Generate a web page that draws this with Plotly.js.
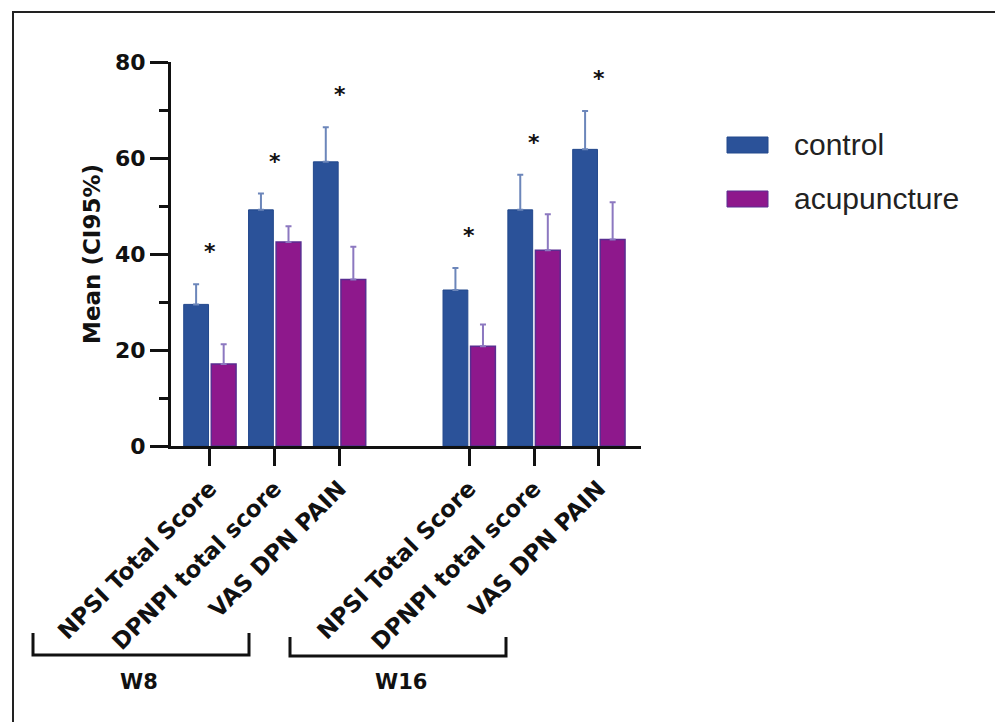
<!DOCTYPE html>
<html>
<head>
<meta charset="utf-8">
<script src="https://cdn.plot.ly/plotly-3.0.1.min.js"></script>
<style>
  html, body { margin: 0; padding: 0; background: #fff; overflow: hidden; }
  #wrap { position: relative; width: 995px; height: 722px; }
  #chart { width: 995px; height: 722px; }
  #frame { position: absolute; left: 12px; top: 11px; width: 1000px; height: 1000px;
           border-left: 2px solid #222; border-top: 2px solid #222; pointer-events: none; box-sizing: border-box; }
</style>
</head>
<body>
<div id="wrap">
  <div id="chart"></div>
  <div id="frame"></div>
</div>
<script>
// ---- data ----
const measures = ['NPSI Total Score', 'DPNPI total score', 'VAS DPN PAIN'];
const weeks = ['W8', 'W16'];
const seriesNames = ['control', 'acupuncture'];
// order: W8 (NPSI, DPNPI, VAS), W16 (NPSI, DPNPI, VAS)
const controlMean = [29.5, 49.2, 59.2, 32.5, 49.2, 61.8];
const controlErr  = [4.2, 3.4, 7.2, 4.6, 7.3, 8.0];
const acupMean    = [17.1, 42.5, 34.7, 20.8, 40.8, 43.0];
const acupErr     = [4.1, 3.3, 6.8, 4.5, 7.5, 7.8];
const yTicks = [0, 20, 40, 60, 80];

// ---- build categories ----
const keys = [];
const labels = [];
weeks.forEach(w => measures.forEach(m => { keys.push(w + '|' + m); labels.push(m); }));
const gapKey = 'gap';
const catArray = keys.slice(0, 3).concat([gapKey]).concat(keys.slice(3));

const W = 995, H = 722;
const L = 171, R = 354, T = 62, B = 276;
const PW = W - L - R, PH = H - T - B;
const px = x => (x - L) / PW;
const py = y => (H - B - y) / PH;

const boldFont = 'DejaVu Sans, sans-serif';

const traces = [
  {
    type: 'bar', name: seriesNames[0], x: keys, y: controlMean,
    marker: { color: '#2B5299', line: { color: '#23488C', width: 1 } },
    error_y: { type: 'data', array: controlErr, arrayminus: controlErr.map(() => 0), symmetric: false,
               color: '#6C86BA', thickness: 2, width: 3 },
    showlegend: false, hoverinfo: 'skip'
  },
  {
    type: 'bar', name: seriesNames[1], x: keys, y: acupMean,
    marker: { color: '#8E188C', line: { color: '#5A2D91', width: 1.5 } },
    error_y: { type: 'data', array: acupErr, arrayminus: acupErr.map(() => 0), symmetric: false,
               color: '#8C78C0', thickness: 2, width: 3 },
    showlegend: false, hoverinfo: 'skip'
  }
];

const annotations = [];
// significance stars
keys.forEach((k, i) => {
  const top = Math.max(controlMean[i] + controlErr[i], acupMean[i] + acupErr[i]);
  annotations.push({ x: k, y: top + 8, xref: 'x', yref: 'y', text: '*', showarrow: false,
    font: { family: boldFont, size: 22, color: '#111', weight: 'bold' }, yanchor: 'middle', yshift: -6 });
});
// week labels
annotations.push({ x: px(139), y: py(682), xref: 'paper', yref: 'paper', text: '<b>W8</b>', showarrow: false,
  font: { family: boldFont, size: 21, color: '#111' }, xanchor: 'center', yanchor: 'middle' });
annotations.push({ x: px(401), y: py(682), xref: 'paper', yref: 'paper', text: '<b>W16</b>', showarrow: false,
  font: { family: boldFont, size: 21, color: '#111' }, xanchor: 'center', yanchor: 'middle' });
// legend text
annotations.push({ x: px(792), y: py(144), xref: 'paper', yref: 'paper', text: seriesNames[0], showarrow: false,
  font: { family: 'Liberation Sans, Arial, sans-serif', size: 30, color: '#222' }, xanchor: 'left', yanchor: 'middle' });
annotations.push({ x: px(792), y: py(198), xref: 'paper', yref: 'paper', text: seriesNames[1], showarrow: false,
  font: { family: 'Liberation Sans, Arial, sans-serif', size: 30, color: '#222' }, xanchor: 'left', yanchor: 'middle' });

const shapes = [
  // brackets
  { type: 'path', xref: 'paper', yref: 'paper',
    path: `M ${px(33)},${py(633)} L ${px(33)},${py(655)} L ${px(249)},${py(655)} L ${px(249)},${py(633)}`,
    line: { color: '#111', width: 3 } },
  { type: 'path', xref: 'paper', yref: 'paper',
    path: `M ${px(290)},${py(637)} L ${px(290)},${py(656)} L ${px(506)},${py(656)} L ${px(506)},${py(637)}`,
    line: { color: '#111', width: 3 } },
  // legend swatches
  { type: 'rect', xref: 'paper', yref: 'paper', x0: px(727), x1: px(768), y0: py(153), y1: py(137),
    fillcolor: '#2B5299', line: { color: '#23488C', width: 1 } },
  { type: 'rect', xref: 'paper', yref: 'paper', x0: px(727), x1: px(768), y0: py(207), y1: py(191),
    fillcolor: '#8E188C', line: { color: '#5A2D91', width: 1 } }
];

const layout = {
  width: W, height: H,
  margin: { l: L, r: R, t: T, b: B, pad: 0 },
  paper_bgcolor: '#fff', plot_bgcolor: '#fff',
  barmode: 'group', bargap: 0.15, bargroupgap: 0.1,
  showlegend: false,
  xaxis: {
    type: 'category', categoryorder: 'array', categoryarray: catArray,
    range: [-0.6, 6.65], fixedrange: true,
    tickmode: 'array', tickvals: keys, ticktext: labels,
    tickangle: -45, ticks: 'outside', ticklen: 17, tickwidth: 3, tickcolor: '#111',
    showline: true, linecolor: '#111', linewidth: 3, showgrid: false, zeroline: false,
    tickfont: { family: boldFont, size: 23, color: '#111', weight: 'bold' },
    automargin: false
  },
  yaxis: {
    range: [0, 80], tickmode: 'array', tickvals: yTicks,
    ticks: 'outside', ticklen: 18, tickwidth: 3, tickcolor: '#111',
    minor: { dtick: 10, tick0: 0, ticks: 'outside', ticklen: 9, tickwidth: 3, tickcolor: '#111', showgrid: false },
    showline: true, linecolor: '#111', linewidth: 3, showgrid: false, zeroline: false,
    tickfont: { family: boldFont, size: 22, color: '#111', weight: 'bold' },
    title: { text: 'Mean (CI95%)', font: { family: boldFont, size: 23, color: '#111', weight: 'bold' }, standoff: 8 },
    automargin: false
  },
  annotations: annotations,
  shapes: shapes
};

Plotly.newPlot('chart', traces, layout, { displayModeBar: false, staticPlot: true });
</script>
</body>
</html>
